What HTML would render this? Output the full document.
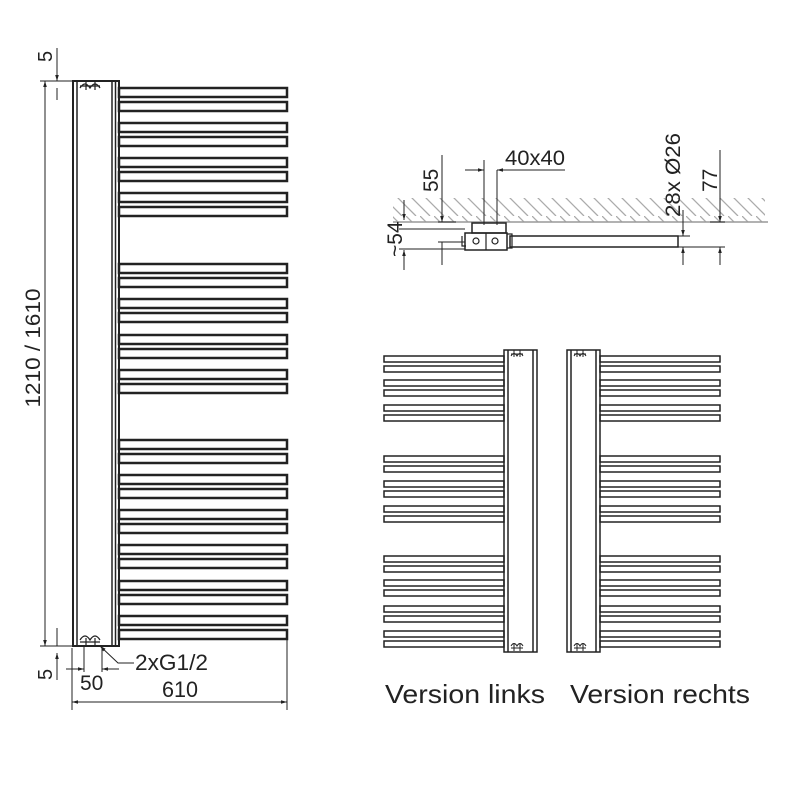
<!DOCTYPE html>
<html><head><meta charset="utf-8"><style>html,body{margin:0;background:#fff}svg{display:block}text{font-family:"Liberation Sans",sans-serif;fill:#222}</style></head>
<body>
<svg width="800" height="800" viewBox="0 0 800 800" xmlns="http://www.w3.org/2000/svg">
<defs>
<marker id="a" viewBox="0 0 10 10" refX="10" refY="5" markerWidth="8" markerHeight="6" orient="auto-start-reverse"><path d="M0,2 L10,5 L0,8z" fill="#222"/></marker>
<pattern id="h" width="14" height="24" patternUnits="userSpaceOnUse"><line x1="0" y1="0" x2="24" y2="24" stroke="#aaa" stroke-width="1.3"/><line x1="-14" y1="0" x2="10" y2="24" stroke="#aaa" stroke-width="1.3"/></pattern>
</defs>
<g fill="none" stroke="#222">
<rect x="73" y="81" width="46" height="565" stroke-width="2"/>
<line x1="77" y1="81" x2="77" y2="646" stroke-width="1.5"/>
<line x1="112" y1="81" x2="112" y2="646" stroke-width="1.5"/>
<line x1="115.5" y1="81" x2="115.5" y2="646" stroke-width="1.5"/>
<path d="M80,88 q5,-8 10,0 q5,-8 10,0 M80,86h20 M86,82v8 M95,82v8" stroke-width="1.2"/>
<path d="M80,640 q5,-8 10,0 q5,-8 10,0 M80,642h20 M86,638v8 M95,638v8" stroke-width="1.2"/>
<g stroke-width="2.5">
<rect x="119" y="88" width="168" height="9"/><rect x="119" y="102" width="168" height="9"/>
<rect x="119" y="123" width="168" height="9"/><rect x="119" y="137" width="168" height="9"/>
<rect x="119" y="158" width="168" height="9"/><rect x="119" y="172" width="168" height="9"/>
<rect x="119" y="193" width="168" height="9"/><rect x="119" y="207" width="168" height="9"/>
<rect x="119" y="264" width="168" height="9"/><rect x="119" y="278" width="168" height="9"/>
<rect x="119" y="299" width="168" height="9"/><rect x="119" y="313" width="168" height="9"/>
<rect x="119" y="335" width="168" height="9"/><rect x="119" y="349" width="168" height="9"/>
<rect x="119" y="370" width="168" height="9"/><rect x="119" y="384" width="168" height="9"/>
<rect x="119" y="440" width="168" height="9"/><rect x="119" y="454" width="168" height="9"/>
<rect x="119" y="475" width="168" height="9"/><rect x="119" y="489" width="168" height="9"/>
<rect x="119" y="510" width="168" height="9"/><rect x="119" y="524" width="168" height="9"/>
<rect x="119" y="545" width="168" height="9"/><rect x="119" y="559" width="168" height="9"/>
<rect x="119" y="581" width="168" height="9"/><rect x="119" y="595" width="168" height="9"/>
<rect x="119" y="616" width="168" height="9"/><rect x="119" y="630" width="168" height="9"/>
</g>
<g stroke-width="1">
<line x1="45" y1="81" x2="45" y2="646" marker-start="url(#a)" marker-end="url(#a)"/>
<line x1="40" y1="81" x2="73" y2="81"/><line x1="40" y1="646" x2="73" y2="646"/>
<line x1="57" y1="48" x2="57" y2="81" marker-end="url(#a)"/><line x1="57" y1="88" x2="57" y2="100"/>
<line x1="57" y1="628" x2="57" y2="646"/><line x1="57" y1="680" x2="57" y2="653" marker-end="url(#a)"/>
<line x1="72" y1="648" x2="72" y2="710"/><line x1="287" y1="630" x2="287" y2="710"/>
<line x1="72" y1="702" x2="287" y2="702" marker-start="url(#a)" marker-end="url(#a)"/>
<line x1="84" y1="645" x2="84" y2="672"/><line x1="102" y1="645" x2="102" y2="672"/>
<line x1="66" y1="669" x2="84" y2="669" marker-end="url(#a)"/><line x1="119" y1="669" x2="102" y2="669" marker-end="url(#a)"/>
<path d="M134,663 H118 L100,646" marker-end="url(#a)"/>
</g>
<rect x="393" y="198" width="372" height="24" fill="url(#h)" stroke="none"/>
<line x1="393" y1="222" x2="768" y2="222" stroke="#999" stroke-width="1.5"/>
<rect x="510" y="236" width="168" height="11" stroke-width="1.5"/>
<rect x="472" y="223" width="34" height="10" stroke-width="1.5"/>
<rect x="465" y="233" width="42" height="17" stroke-width="1.5"/>
<line x1="486" y1="233" x2="486" y2="250" stroke-width="1.2"/>
<circle cx="476" cy="241" r="3" stroke-width="1.2"/><circle cx="495" cy="241" r="3" stroke-width="1.2"/>
<path d="M462,236 v10 h4 M507,234 h5 v14 h-5" stroke-width="1.2"/>
<g stroke-width="1">
<line x1="442" y1="155" x2="442" y2="222" marker-end="url(#a)"/><line x1="442" y1="242" x2="442" y2="265"/>
<line x1="438" y1="222" x2="456" y2="222"/><line x1="438" y1="242" x2="465" y2="242"/>
<line x1="484" y1="160" x2="484" y2="225"/><line x1="497" y1="170" x2="497" y2="225"/>
<line x1="465" y1="170" x2="484" y2="170" marker-end="url(#a)"/><line x1="565" y1="170" x2="497" y2="170" marker-end="url(#a)"/>
<line x1="404" y1="200" x2="404" y2="220" marker-end="url(#a)"/><line x1="404" y1="270" x2="404" y2="250" marker-end="url(#a)"/>
<line x1="399" y1="229" x2="465" y2="229"/><line x1="399" y1="249" x2="465" y2="249"/>
<line x1="683" y1="210" x2="683" y2="236" marker-end="url(#a)"/><line x1="683" y1="265" x2="683" y2="247" marker-end="url(#a)"/>
<line x1="678" y1="236" x2="690" y2="236"/><line x1="678" y1="247" x2="725" y2="247"/>
<line x1="720" y1="150" x2="720" y2="222" marker-end="url(#a)"/><line x1="720" y1="265" x2="720" y2="247" marker-end="url(#a)"/>
<line x1="710" y1="222" x2="725" y2="222"/>
</g>
<g stroke-width="1.5">
<rect x="504" y="350" width="33" height="302"/><line x1="508" y1="350" x2="508" y2="652"/><line x1="533" y1="350" x2="533" y2="652"/>
<rect x="567" y="350" width="33" height="302"/><line x1="571" y1="350" x2="571" y2="652"/><line x1="596" y1="350" x2="596" y2="652"/>
<path d="M511,356 q3,-5 6,0 q3,-5 6,0 M511,354h12 M514,350v7 M520,350v7" stroke-width="1"/>
<path d="M511,646 q3,-5 6,0 q3,-5 6,0 M511,648h12 M514,644v7 M520,644v7" stroke-width="1"/>
<path d="M574,356 q3,-5 6,0 q3,-5 6,0 M574,354h12 M577,350v7 M583,350v7" stroke-width="1"/>
<path d="M574,646 q3,-5 6,0 q3,-5 6,0 M574,648h12 M577,644v7 M583,644v7" stroke-width="1"/>
<g id="rb">
<rect x="384" y="356" width="120" height="6"/><rect x="384" y="366" width="120" height="6"/>
<rect x="384" y="380" width="120" height="6"/><rect x="384" y="390" width="120" height="6"/>
<rect x="384" y="405" width="120" height="6"/><rect x="384" y="415" width="120" height="6"/>
<rect x="384" y="456" width="120" height="6"/><rect x="384" y="466" width="120" height="6"/>
<rect x="384" y="481" width="120" height="6"/><rect x="384" y="491" width="120" height="6"/>
<rect x="384" y="506" width="120" height="6"/><rect x="384" y="516" width="120" height="6"/>
<rect x="384" y="556" width="120" height="6"/><rect x="384" y="566" width="120" height="6"/>
<rect x="384" y="580" width="120" height="6"/><rect x="384" y="590" width="120" height="6"/>
<rect x="384" y="606" width="120" height="6"/><rect x="384" y="616" width="120" height="6"/>
<rect x="384" y="631" width="120" height="6"/><rect x="384" y="641" width="120" height="6"/>
</g>
<use href="#rb" x="216"/>
</g>
</g>
<text transform="translate(40,348) rotate(-90)" font-size="21" text-anchor="middle" textLength="119" lengthAdjust="spacingAndGlyphs">1210 / 1610</text>
<text transform="translate(52,62) rotate(-90)" font-size="20">5</text>
<text transform="translate(52,680) rotate(-90)" font-size="20">5</text>
<text x="135" y="670" font-size="22" textLength="73" lengthAdjust="spacingAndGlyphs">2xG1/2</text>
<text x="80" y="690" font-size="21">50</text>
<text x="162" y="697" font-size="22" textLength="36" lengthAdjust="spacingAndGlyphs">610</text>
<text transform="translate(438,192) rotate(-90)" font-size="21">55</text>
<text x="505" y="165" font-size="21" textLength="60" lengthAdjust="spacingAndGlyphs">40x40</text>
<text transform="translate(402,257) rotate(-90)" font-size="21">~54</text>
<text transform="translate(680,217) rotate(-90)" font-size="21" textLength="84" lengthAdjust="spacingAndGlyphs">28x Ø26</text>
<text transform="translate(717,192) rotate(-90)" font-size="21">77</text>
<text x="385" y="703" font-size="26" textLength="160" lengthAdjust="spacingAndGlyphs">Version links</text>
<text x="570" y="703" font-size="26" textLength="180" lengthAdjust="spacingAndGlyphs">Version rechts</text>
</svg>
</body></html>
